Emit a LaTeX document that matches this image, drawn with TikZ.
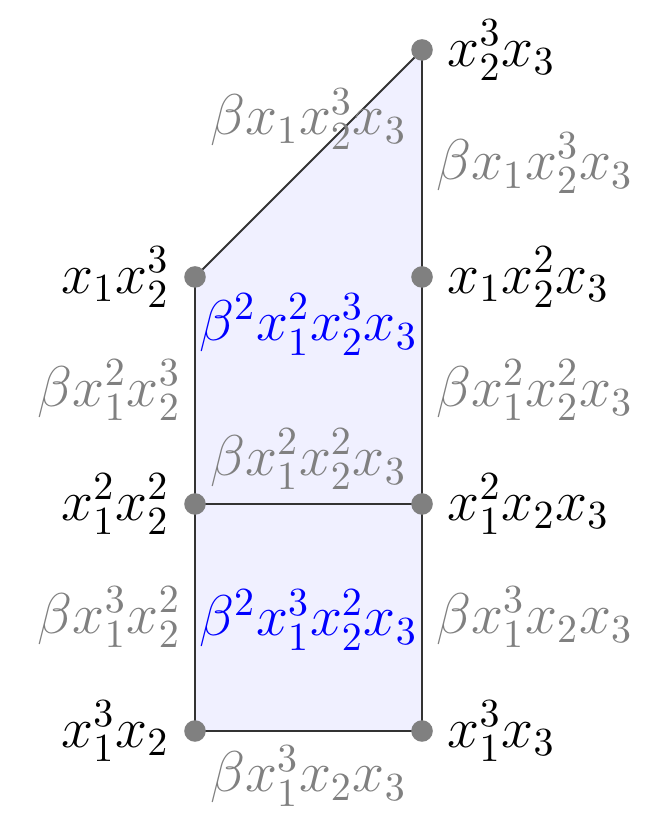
\documentclass[tikz,border=0pt]{standalone}
\usetikzlibrary{positioning,calc}

\begin{document}
\begin{tikzpicture}[x=2cm, y=2cm, font=\Large,
  vert/.style={circle, fill=gray, inner sep=0pt, minimum size=0.19cm},
  edge/.style={draw=black!80, line width=0.5pt},
  elab/.style={text=gray},
  face/.style={text=blue}]
  \useasboundingbox (-0.859,-0.370) rectangle (2.057,3.220);
  % corners of the staircase
  \coordinate (a) at (0,0);
  \coordinate (b) at (1,0);
  \coordinate (c) at (0,1);
  \coordinate (d) at (1,1);
  \coordinate (e) at (0,2);
  \coordinate (f) at (1,2);
  \coordinate (g) at (1,3);
  \fill[blue!6] (a) -- (b) -- (g) -- (e) -- cycle;
  \node[face] (upper) at (0.5,1.79) {$\beta^2x_1^2x_2^3x_3$};
  \node[face] (lower) at (0.5,0.49) {$\beta^2x_1^3x_2^2x_3$};
  \draw[edge] (a) -- node[elab, below] {$\beta x_1^3x_2x_3$} (b);
  \draw[edge] (a) -- node[elab, left] {$\beta x_1^3x_2^2$} (c);
  \draw[edge] (b) -- node[elab, right] {$\beta x_1^3x_2x_3$} (d);
  \draw[edge] (c) -- node[elab, above] {$\beta x_1^2x_2^2x_3$} (d);
  \draw[edge] (c) -- node[elab, left] {$\beta x_1^2x_2^3$} (e);
  \draw[edge] (d) -- node[elab, right] {$\beta x_1^2x_2^2x_3$} (f);
  \draw[edge] (e) -- node[elab, above] {$\beta x_1x_2^3x_3$} (g);
  \draw[edge] (f) -- node[elab, right] {$\beta x_1x_2^3x_3$} (g);
  % monomials at the corners
  \node[vert, label=left:{$x_1^3x_2$}] (ma) at (a) {};
  \node[vert, label=right:{$x_1^3x_3$}] (mb) at (b) {};
  \node[vert, label=left:{$x_1^2x_2^2$}] (mc) at (c) {};
  \node[vert, label=right:{$x_1^2x_2x_3$}] (md) at (d) {};
  \node[vert, label=left:{$x_1x_2^3$}] (me) at (e) {};
  \node[vert, label=right:{$x_1x_2^2x_3$}] (mf) at (f) {};
  \node[vert, label=right:{$x_2^3x_3$}] (mg) at (g) {};
\end{tikzpicture}
\end{document}
